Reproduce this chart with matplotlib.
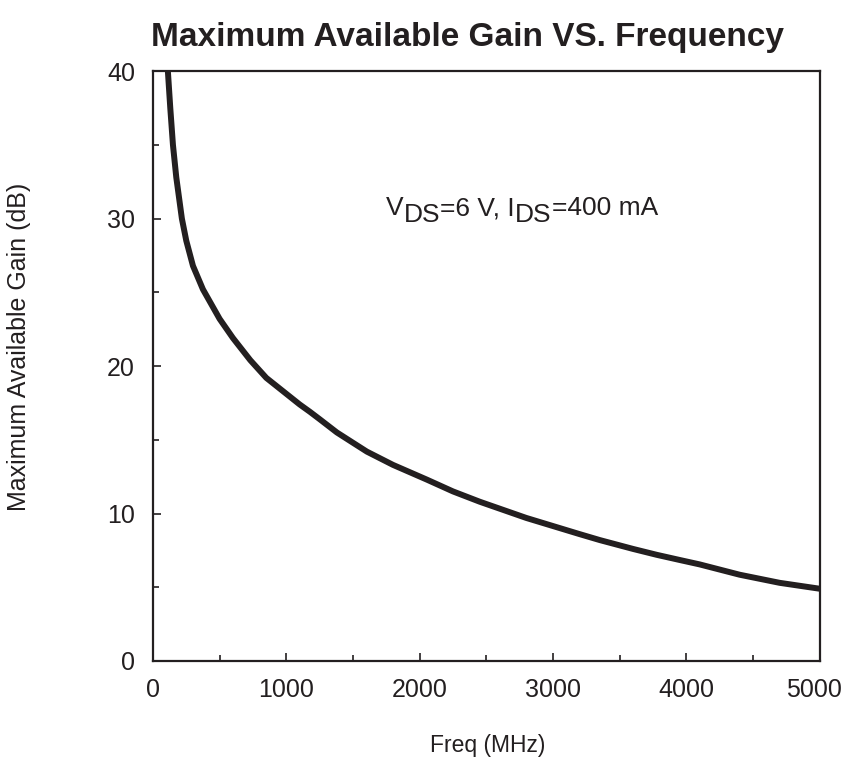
import matplotlib
matplotlib.use("Agg")
import matplotlib.pyplot as plt
import matplotlib.transforms as mtransforms
from matplotlib.ticker import MultipleLocator

plt.rcParams['font.family'] = ['Liberation Sans', 'DejaVu Sans']

# curve
freq = [112, 130, 150, 175, 217, 250, 300, 375, 450, 500, 600, 730, 850, 975,
        1100, 1177, 1250, 1379, 1500, 1604, 1800, 2054, 2250, 2451, 2800, 3201,
        3351, 3600, 3778, 3950, 4100, 4400, 4700, 5000]
gain = [40, 37.5, 35, 32.8, 30, 28.5, 26.8, 25.2, 24.0, 23.2, 21.9, 20.4, 19.2, 18.3,
        17.4, 16.9, 16.4, 15.5, 14.8, 14.2, 13.3, 12.3, 11.5, 10.8, 9.7, 8.6,
        8.2, 7.6, 7.2, 6.85, 6.55, 5.85, 5.3, 4.9]

ink = '#231f20'

fig = plt.figure(figsize=(8.45, 7.71), dpi=100)
ax = fig.add_axes([0.181, 0.1427, 0.789, 0.765])

ax.plot(freq, gain, color=ink, lw=4.3, solid_capstyle='butt', solid_joinstyle='round')

ax.set_xlim(0, 5000)
ax.set_ylim(0, 40)
ax.xaxis.set_major_locator(MultipleLocator(1000))
ax.xaxis.set_minor_locator(MultipleLocator(500))
ax.yaxis.set_major_locator(MultipleLocator(10))
ax.yaxis.set_minor_locator(MultipleLocator(5))
ax.tick_params(which='both', direction='in', color=ink, labelsize=18, labelcolor=ink)
ax.tick_params(which='major', length=5.5, width=1.2)
ax.tick_params(which='minor', length=4, width=1.2)
ax.tick_params(axis='x', pad=12)
ax.tick_params(axis='y', pad=13)
for s in ax.spines.values():
    s.set_color(ink)
    s.set_linewidth(1.6)

ax.set_xlabel('Freq (MHz)', fontsize=16.5, color=ink)
ax.set_ylabel('Maximum Available Gain (dB)', fontsize=18, color=ink)
ax.xaxis.set_label_coords(0.502, -0.123)
ax.yaxis.set_label_coords(-0.183, 0.532)
fig.text(0.553, 0.952, 'Maximum Available Gain VS. Frequency', ha='center', va='center',
         fontsize=24, fontweight='bold', color=ink)

# condition label, subscripts drawn as shifted pieces
parts = [('V', 0), ('DS', -7), ('=6 V, I', 7), ('DS', -7), ('=400 mA', 7)]
t = ax.text(1750, 29.9, parts[0][0], fontsize=19, color=ink, va='bottom')
for s, dy in parts[1:]:
    t = ax.annotate(s, xy=(1, 0), xycoords=t, xytext=(0, dy), textcoords='offset pixels',
                    fontsize=19, color=ink, va='bottom', ha='left')

# last x label sits a bit left of its tick so it stays inside the figure
fig.canvas.draw()
for tk in ax.xaxis.get_major_ticks():
    if abs(tk.get_loc() - 5000) < 1:
        lab = tk.label1
        lab.set_transform(lab.get_transform() +
                          mtransforms.ScaledTranslation(-6 / 100, 0, fig.dpi_scale_trans))

fig.savefig('out.png', dpi=100)
